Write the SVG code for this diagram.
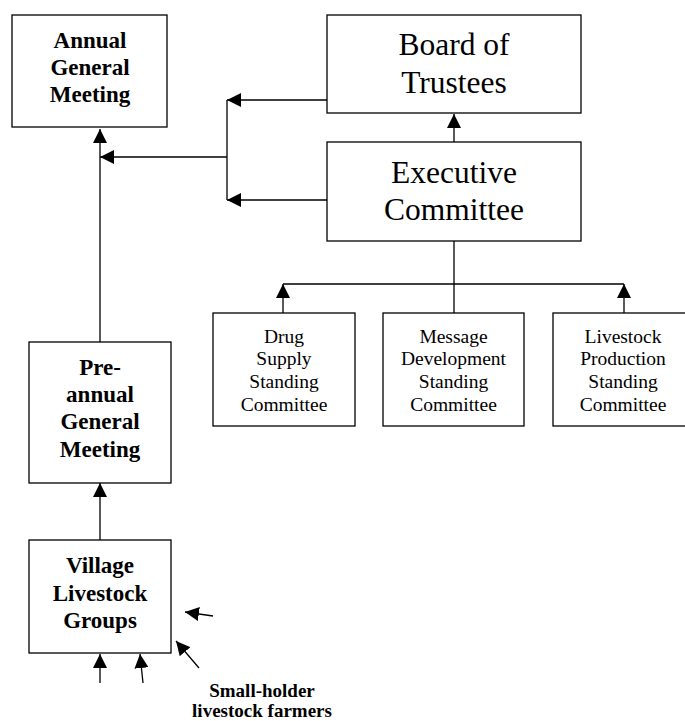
<svg xmlns="http://www.w3.org/2000/svg" width="685" height="721" viewBox="0 0 685 721">
<style>
.box{fill:#fff;stroke:#000;stroke-width:1.3}
.ln{fill:none;stroke:#000;stroke-width:1.3}
.b{font-family:"Liberation Serif","Times New Roman",serif;font-weight:bold;font-size:23px;text-anchor:middle;fill:#000}
.big{font-family:"Liberation Serif","Times New Roman",serif;font-size:31.5px;text-anchor:middle;fill:#000}
.sm{font-family:"Liberation Serif","Times New Roman",serif;font-size:19.5px;text-anchor:middle;fill:#000}
.lab{font-family:"Liberation Serif","Times New Roman",serif;font-weight:bold;font-size:19px;text-anchor:middle;fill:#000}
</style>
<defs>
<marker id="ah" viewBox="0 0 14 14" refX="14" refY="7" markerWidth="14" markerHeight="14" markerUnits="userSpaceOnUse" orient="auto">
<path d="M0,0 L14,7 L0,14 Z" fill="#000"/>
</marker>
</defs>
<g id="connectors">
<line class="ln" x1="100" y1="342" x2="100" y2="129" marker-end="url(#ah)"/>
<line class="ln" x1="227" y1="157" x2="100" y2="157" marker-end="url(#ah)"/>
<line class="ln" x1="227" y1="100" x2="227" y2="200"/>
<line class="ln" x1="327" y1="100" x2="227" y2="100" marker-end="url(#ah)"/>
<line class="ln" x1="327" y1="200" x2="227" y2="200" marker-end="url(#ah)"/>
<line class="ln" x1="454" y1="142" x2="454" y2="114" marker-end="url(#ah)"/>
<line class="ln" x1="454" y1="241" x2="454" y2="313"/>
<line class="ln" x1="283" y1="284" x2="624" y2="284"/>
<line class="ln" x1="283" y1="313" x2="283" y2="284" marker-end="url(#ah)"/>
<line class="ln" x1="624" y1="313" x2="624" y2="284" marker-end="url(#ah)"/>
<line class="ln" x1="100" y1="540" x2="100" y2="483" marker-end="url(#ah)"/>
<line class="ln" x1="100" y1="683" x2="100" y2="654" marker-end="url(#ah)"/>
<line class="ln" x1="143" y1="683" x2="140" y2="654" marker-end="url(#ah)"/>
<line class="ln" x1="199" y1="668" x2="176" y2="641" marker-end="url(#ah)"/>
<line class="ln" x1="213" y1="616" x2="185" y2="612" marker-end="url(#ah)"/>
</g>
<g id="agm">
<rect class="box" x="12" y="15" width="155" height="112"/>
<text class="b" x="90" y="48">Annual</text>
<text class="b" x="90" y="75">General</text>
<text class="b" x="90" y="102">Meeting</text>
</g>
<g id="board">
<rect class="box" x="327" y="15" width="254" height="98"/>
<text class="big" x="454" y="55">Board of</text>
<text class="big" x="454" y="93">Trustees</text>
</g>
<g id="exec">
<rect class="box" x="327" y="142" width="254" height="99"/>
<text class="big" x="454" y="183">Executive</text>
<text class="big" x="454" y="220">Committee</text>
</g>
<g id="drug">
<rect class="box" x="213" y="313" width="142" height="113"/>
<text class="sm" x="284" y="342.5">Drug</text>
<text class="sm" x="284" y="365">Supply</text>
<text class="sm" x="284" y="388">Standing</text>
<text class="sm" x="284" y="411">Committee</text>
</g>
<g id="message">
<rect class="box" x="383" y="313" width="141" height="113"/>
<text class="sm" x="453.5" y="342.5">Message</text>
<text class="sm" x="453.5" y="365">Development</text>
<text class="sm" x="453.5" y="388">Standing</text>
<text class="sm" x="453.5" y="411">Committee</text>
</g>
<g id="livestock">
<rect class="box" x="553" y="313" width="142" height="113"/>
<text class="sm" x="623" y="342.5">Livestock</text>
<text class="sm" x="623" y="365">Production</text>
<text class="sm" x="623" y="388">Standing</text>
<text class="sm" x="623" y="411">Committee</text>
</g>
<g id="preagm">
<rect class="box" x="29" y="342" width="142" height="141"/>
<text class="b" x="100" y="375">Pre-</text>
<text class="b" x="100" y="402">annual</text>
<text class="b" x="100" y="429">General</text>
<text class="b" x="100" y="457">Meeting</text>
</g>
<g id="village">
<rect class="box" x="29" y="540" width="142" height="113"/>
<text class="b" x="100" y="573">Village</text>
<text class="b" x="100" y="601">Livestock</text>
<text class="b" x="100" y="628">Groups</text>
</g>
<g id="farmers">
<text class="lab" x="262" y="697">Small-holder</text>
<text class="lab" x="262" y="717">livestock farmers</text>
</g>
</svg>
